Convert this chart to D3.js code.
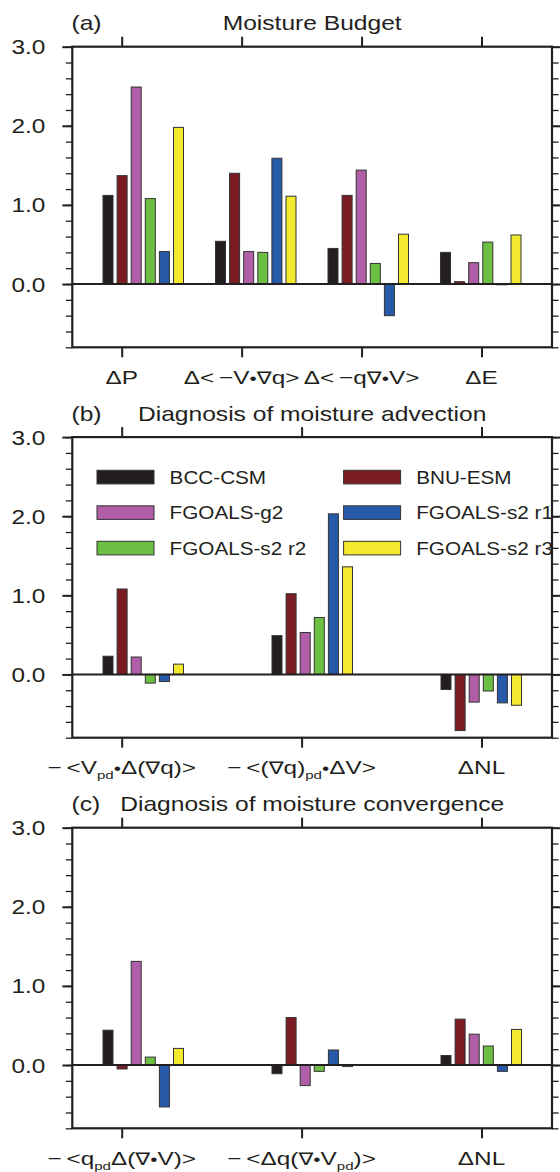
<!doctype html>
<html>
<head>
<script src="https://d3js.org/d3.v7.min.js"></script>
<style>
  body { margin: 0; background: #fff; }
  text { font-family: "Liberation Sans", Arial, Helvetica, sans-serif; fill: #231f20; }
  .nabla { font-family: "DejaVu Sans", sans-serif; font-weight: normal; }
</style>
</head>
<body>
<svg width="560" height="1172"></svg>
<script>
// bar order inside each group, and the matching fill colours
var barModels = ["BCC-CSM", "BNU-ESM", "FGOALS-g2", "FGOALS-s2 r2", "FGOALS-s2 r1", "FGOALS-s2 r3"];
var barColors = ["#231f20", "#7a1c22", "#b05ea8", "#6cbf42", "#275aa8", "#f3e92f"];
var legendRows = [["BCC-CSM", "BNU-ESM"], ["FGOALS-g2", "FGOALS-s2 r1"], ["FGOALS-s2 r2", "FGOALS-s2 r3"]];

var yMajor = [0, 1, 2, 3];
var yMinor = [-0.8, -0.6, -0.4, -0.2, 0, 0.2, 0.4, 0.6, 0.8, 1, 1.2, 1.4, 1.6, 1.8, 2, 2.2, 2.4, 2.6, 2.8, 3];

// (a) moisture budget
var budgetLabels = ["ΔP", "Δ<\u2009−V•∇q>", "Δ<\u2009−q∇•V>", "ΔE"];
var budgetValues = [
  [1.12, 1.37, 2.49, 1.08, 0.41, 1.98],
  [0.54, 1.40, 0.41, 0.40, 1.59, 1.11],
  [0.45, 1.12, 1.44, 0.26, -0.40, 0.63],
  [0.40, 0.03, 0.27, 0.53, -0.01, 0.62]
];

// (b) moisture advection
var advLabels = ["−\u2009<V_{pd}•Δ(∇q)>", "−\u2009<(∇q)_{pd}•ΔV>", "ΔNL"];
var advValues = [
  [0.23, 1.08, 0.22, -0.11, -0.09, 0.13],
  [0.49, 1.02, 0.53, 0.72, 2.03, 1.36],
  [-0.19, -0.71, -0.35, -0.21, -0.36, -0.39]
];

// (c) moisture convergence
var convLabels = ["−\u2009<q_{pd}Δ(∇•V)>", "−\u2009<Δq(∇•V_{pd})>", "ΔNL"];
var convValues = [
  [0.44, -0.05, 1.31, 0.10, -0.53, 0.21],
  [-0.11, 0.60, -0.26, -0.08, 0.19, -0.02],
  [0.12, 0.58, 0.39, 0.24, -0.08, 0.45]
];

var svg = d3.select("svg");
svg.append("rect").attr("width", 560).attr("height", 1172).attr("fill", "#fff");

var left = 72.3, right = 552, ph = 300.6;
var ink = "#231f20";
var color = d3.scaleOrdinal().domain(barModels).range(barColors);

// text with "_{..}" subscripts; bullets drawn smaller, nabla as outline glyph
function richText(sel, str) {
  var parts = str.split(/(_\{[^}]*\}|•|∇)/), down = false;
  parts.forEach(function(p) {
    if (!p) return;
    var t;
    if (p.indexOf("_{") === 0) {
      sel.append("tspan").attr("font-size", "0.62em").attr("dy", 5).text(p.slice(2, -1));
      down = true;
      return;
    }
    if (p === "•") t = sel.append("tspan").attr("font-size", "0.85em").text(p);
    else if (p === "∇") t = sel.append("tspan").attr("class", "nabla").attr("font-size", "0.92em").text(p);
    else t = sel.append("tspan").text(p);
    if (down) { t.attr("dy", -5); down = false; }
  });
}
function stxt(parent, x, y, size, sx, anchor, str) {
  var t = parent.append("text")
    .attr("transform", "translate(" + x + "," + y + ") scale(" + sx + ",1)")
    .attr("font-size", size)
    .attr("text-anchor", anchor);
  richText(t, str);
  return t;
}

var panels = [
  {top: 46.7, letter: "(a)", title: "Moisture Budget", labels: budgetLabels, values: budgetValues, groups: [108, 445.5]},
  {top: 437.1, letter: "(b)", title: "Diagnosis of moisture advection", labels: advLabels, values: advValues, groups: [108, 446], legend: true},
  {top: 827.7, letter: "(c)", title: "Diagnosis of moisture convergence", labels: convLabels, values: convValues, groups: [108, 446]}
];

panels.forEach(function(p) {
  var g = svg.append("g");
  var n = p.labels.length;
  var y = d3.scaleLinear().domain([-0.8, 3.0]).range([p.top + ph, p.top]);
  var xt = d3.scaleLinear().domain([0, n - 1]).range([121.7, 481.5]);
  var xg = d3.scaleLinear().domain([0, n - 1]).range(p.groups);
  var inner = d3.scaleBand().domain(barModels).range([0, 6 * 14.1]).paddingInner(0.29).paddingOuter(0.145);

  // bars
  p.values.forEach(function(vals, i) {
    g.selectAll(null)
      .data(vals)
      .enter().append("rect")
      .attr("x", function(d, j) { return xg(i) - inner.step() / 2 + inner(barModels[j]); })
      .attr("y", function(d) { return y(Math.max(d, 0)); })
      .attr("width", inner.bandwidth())
      .attr("height", function(d) { return Math.abs(y(d) - y(0)); })
      .attr("fill", function(d, j) { return color(barModels[j]); })
      .attr("stroke", "#333")
      .attr("stroke-width", 1);
  });

  // zero line
  g.append("line")
    .attr("x1", left).attr("x2", right)
    .attr("y1", y(0)).attr("y2", y(0))
    .attr("stroke", ink).attr("stroke-width", 2);

  // axes
  function styleAxis(a, w) {
    a.select(".domain").remove();
    a.selectAll(".tick line").attr("stroke", ink).attr("stroke-width", w);
  }
  g.append("g").attr("transform", "translate(" + left + ",0)")
    .call(d3.axisLeft(y).tickValues(yMinor).tickSize(6.5).tickFormat(""))
    .call(styleAxis, 1.3);
  g.append("g").attr("transform", "translate(" + right + ",0)")
    .call(d3.axisRight(y).tickValues(yMinor).tickSize(6.5).tickFormat(""))
    .call(styleAxis, 1.3);
  g.append("g").attr("transform", "translate(" + right + ",0)")
    .call(d3.axisRight(y).tickValues(yMajor).tickSize(10).tickFormat(""))
    .call(styleAxis, 2);
  var ya = g.append("g").attr("transform", "translate(" + left + ",0)")
    .call(d3.axisLeft(y).tickValues(yMajor).tickSize(10).tickFormat(d3.format(".1f")))
    .call(styleAxis, 2);
  ya.selectAll(".tick text")
    .attr("font-size", 19.5)
    .attr("x", -27 / 1.25)
    .attr("dy", "0.36em")
    .attr("transform", "scale(1.25,1)");

  g.append("g").attr("transform", "translate(0," + p.top + ")")
    .call(d3.axisTop(xt).tickValues(d3.range(n)).tickSize(10).tickFormat(""))
    .call(styleAxis, 2);
  g.append("g").attr("transform", "translate(0," + (p.top + ph) + ")")
    .call(d3.axisBottom(xt).tickValues(d3.range(n)).tickSize(10).tickFormat(""))
    .call(styleAxis, 2);

  // frame
  g.append("rect")
    .attr("x", left).attr("y", p.top)
    .attr("width", right - left).attr("height", ph)
    .attr("fill", "none").attr("stroke", ink).attr("stroke-width", 2.2);

  // category labels
  p.labels.forEach(function(l, i) {
    stxt(g, xt(i), p.top + ph + 36.5, 19, 1.28, "middle", l);
  });

  // titles
  stxt(g, 71.5, p.top - 16.5, 20.5, 1.2, "start", p.letter);
  stxt(g, (left + right) / 2, p.top - 16.5, 20.5, 1.2, "middle", p.title);

  // legend
  if (p.legend) {
    legendRows.forEach(function(row, r) {
      row.forEach(function(m, c) {
        var bx = left + 24.7 + c * 246.6, cy = p.top + 40 + r * 35.5;
        g.append("rect")
          .attr("x", bx).attr("y", cy - 6.8)
          .attr("width", 57).attr("height", 13.6)
          .attr("fill", color(m)).attr("stroke", "#333").attr("stroke-width", 1);
        stxt(g, bx + 72.6, cy + 6.8, 18, 1.15, "start", m);
      });
    });
  }
});
</script>
</body>
</html>
